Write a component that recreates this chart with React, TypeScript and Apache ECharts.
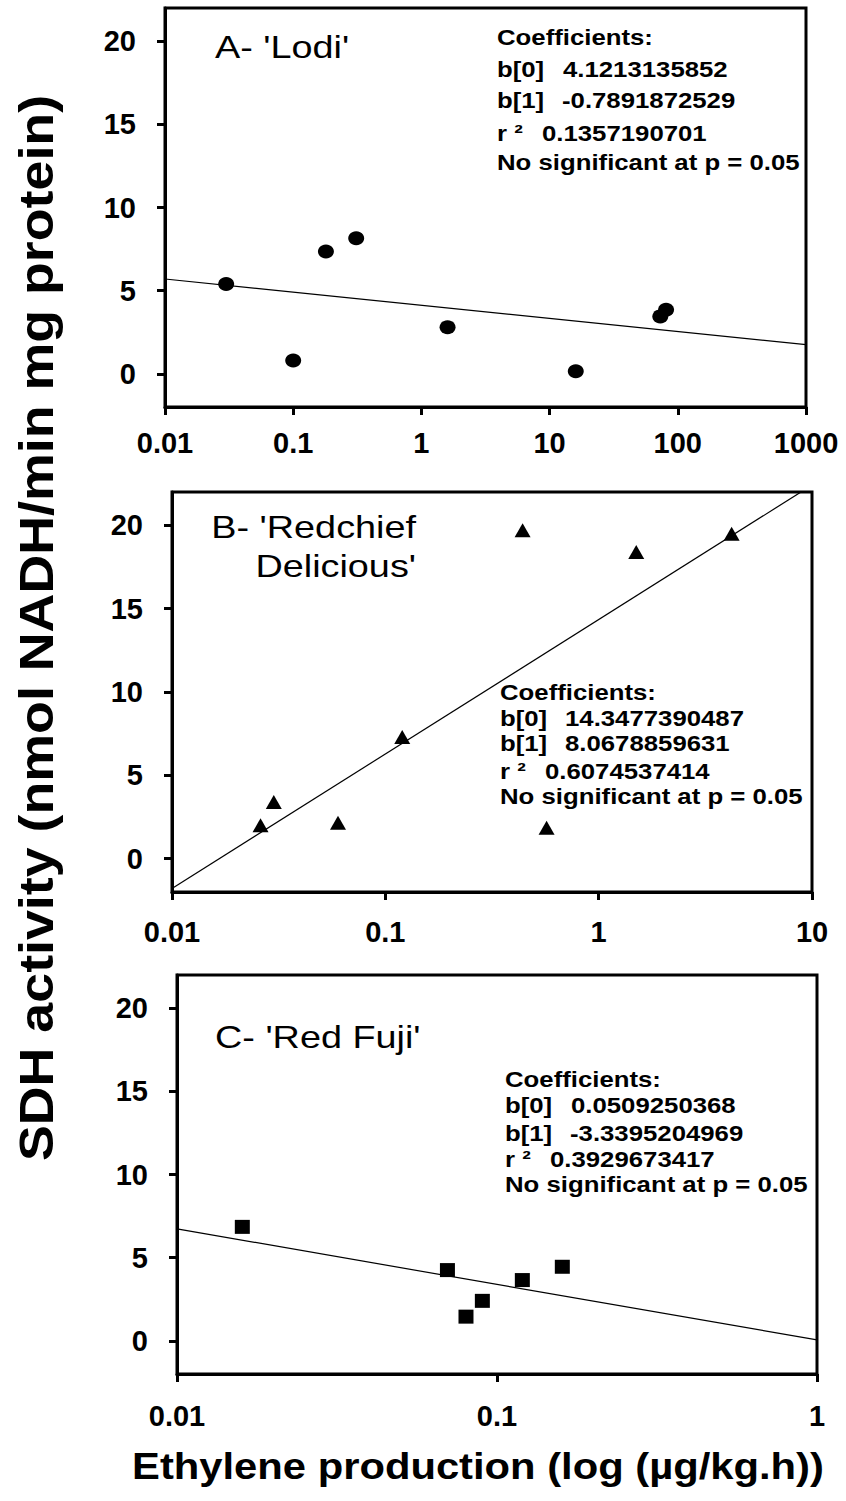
import React, { useEffect, useRef } from 'react';
import * as echarts from 'echarts';

// ---- Data ----
const lodiEthylene = [0.03, 0.1, 0.18, 0.31, 1.6, 16, 73, 81];
const lodiSDH = [5.4, 0.8, 7.35, 8.15, 2.8, 0.15, 3.45, 3.85];

const redchiefEthylene = [0.026, 0.03, 0.06, 0.12, 0.44, 0.57, 1.5, 4.2];
const redchiefSDH = [2.0, 3.4, 2.15, 7.3, 19.7, 1.85, 18.4, 19.5];

const redFujiEthylene = [0.016, 0.07, 0.08, 0.09, 0.12, 0.16];
const redFujiSDH = [6.85, 4.25, 1.45, 2.4, 3.65, 4.45];

// regression coefficients as printed: b[0], b[1], r²
const lodiCoef = ['4.1213135852', '-0.7891872529', '0.1357190701'];
const redchiefCoef = ['14.3477390487', '8.0678859631', '0.6074537414'];
const redFujiCoef = ['0.0509250368', '-3.3395204969', '0.3929673417'];

const coefLabels = ['b[0]', 'b[1]', 'r ²'];
const coefHeader = 'Coefficients:';
const significance = 'No significant at p = 0.05';

const xRangeLodi = [0.01, 1000];
const xRangeRedchief = [0.01, 10];
const xRangeRedFuji = [0.01, 1];
const yRange = [-2, 22];
const yTicks = [0, 5, 10, 15, 20];

const titleLodi = ["A- 'Lodi'"];
const titleRedchief = ["B- 'Redchief", "Delicious'"];
const titleRedFuji = ["C- 'Red Fuji'"];

const yTitle = 'SDH activity (nmol NADH/min mg protein)';
const xTitle = 'Ethylene production (log (\u00b5g/kg.h))';

const FONT = '"Liberation Sans", Arial, Helvetica, sans-serif';

type Panel = {
  xs: number[];
  ys: number[];
  coef: string[];
  xRange: number[];
  symbol: string;
  symbolSize: number[];
  grid: { left: number; top: number; width: number; height: number };
  labelMargin: number;
  title: string[];
  titlePos: { x: number; y: number; align: string }[];
  coefX: number;
  valX: number[];
  lineYs: number[];
};

const panels: Panel[] = [
  {
    xs: lodiEthylene, ys: lodiSDH, coef: lodiCoef, xRange: xRangeLodi,
    symbol: 'circle', symbolSize: [16, 14],
    grid: { left: 165, top: 8, width: 641, height: 399 },
    labelMargin: 21,
    title: titleLodi,
    titlePos: [{ x: 215, y: 47, align: 'left' }],
    coefX: 497, valX: [563, 562, 542], lineYs: [37, 69, 100, 133, 162],
  },
  {
    xs: redchiefEthylene, ys: redchiefSDH, coef: redchiefCoef, xRange: xRangeRedchief,
    symbol: 'triangle', symbolSize: [16, 14],
    grid: { left: 172, top: 492, width: 640, height: 400 },
    labelMargin: 25,
    title: titleRedchief,
    titlePos: [{ x: 416, y: 527, align: 'right' }, { x: 416, y: 566, align: 'right' }],
    coefX: 500, valX: [565, 565, 545], lineYs: [692, 718, 743, 771, 796],
  },
  {
    xs: redFujiEthylene, ys: redFujiSDH, coef: redFujiCoef, xRange: xRangeRedFuji,
    symbol: 'rect', symbolSize: [15, 14],
    grid: { left: 177, top: 975, width: 640, height: 399 },
    labelMargin: 27,
    title: titleRedFuji,
    titlePos: [{ x: 215, y: 1037, align: 'left' }],
    coefX: 505, valX: [571, 570, 550], lineYs: [1079, 1105, 1133, 1159, 1184],
  },
];

function fmtLog(v: number) {
  return String(Number(v.toPrecision(4)));
}

export default function App() {
  const ref = useRef<HTMLDivElement>(null);

  useEffect(() => {
    if (!ref.current) return;
    const chart = echarts.init(ref.current, undefined, { renderer: 'svg' });

    const grids: any[] = [];
    const xAxes: any[] = [];
    const yAxes: any[] = [];
    const series: any[] = [];
    const graphics: any[] = [];

    panels.forEach((p, i) => {
      grids.push({
        left: p.grid.left, top: p.grid.top, width: p.grid.width, height: p.grid.height,
        show: true, borderColor: '#000', borderWidth: 3, backgroundColor: 'transparent',
        containLabel: false,
      });
      xAxes.push({
        type: 'log', logBase: 10, gridIndex: i, min: p.xRange[0], max: p.xRange[1],
        position: 'bottom',
        axisLine: { show: true, onZero: false, lineStyle: { color: '#000', width: 3 } },
        axisTick: { show: true, inside: false, length: 8, lineStyle: { color: '#000', width: 3 } },
        minorTick: { show: false },
        splitLine: { show: false },
        minorSplitLine: { show: false },
        axisLabel: {
          color: '#000', fontSize: 29, fontWeight: 'bold', fontFamily: FONT,
          margin: p.labelMargin, formatter: (v: number) => fmtLog(v),
        },
      });
      yAxes.push({
        type: 'value', gridIndex: i, min: yRange[0], max: yRange[1],
        position: 'left',
        axisLine: { show: true, onZero: false, lineStyle: { color: '#000', width: 3 } },
        axisTick: {
          show: true, inside: false, length: 8, customValues: yTicks,
          lineStyle: { color: '#000', width: 3 },
        },
        splitLine: { show: false },
        axisLabel: {
          color: '#000', fontSize: 29, fontWeight: 'bold', fontFamily: FONT,
          margin: 29, customValues: yTicks,
        },
      });

      const b0 = parseFloat(p.coef[0]);
      const b1 = parseFloat(p.coef[1]);
      const lineData = p.xRange.map((x) => [x, b0 + b1 * Math.log10(x)]);
      series.push({
        type: 'line', xAxisIndex: i, yAxisIndex: i, data: lineData,
        showSymbol: false, symbol: 'none', clip: true,
        lineStyle: { color: '#000', width: 1.2 }, z: 2,
      });
      series.push({
        type: 'scatter', xAxisIndex: i, yAxisIndex: i,
        data: p.xs.map((x, k) => [x, p.ys[k]]),
        symbol: p.symbol, symbolSize: p.symbolSize,
        itemStyle: { color: '#000', opacity: 1 }, z: 3,
      });

      p.title.forEach((t, k) => {
        graphics.push({
          type: 'text', x: p.titlePos[k].x, y: p.titlePos[k].y, scaleX: 1.22, z: 10,
          style: {
            text: t, fill: '#000', font: `normal 31px ${FONT}`,
            textAlign: p.titlePos[k].align, textVerticalAlign: 'middle',
          },
        });
      });

      const coefStyle = (text: string) => ({
        text, fill: '#000', font: `bold 23px ${FONT}`,
        textAlign: 'left', textVerticalAlign: 'middle',
      });
      graphics.push({ type: 'text', x: p.coefX, y: p.lineYs[0], scaleX: 1.12, z: 10, style: coefStyle(coefHeader) });
      coefLabels.forEach((lab, k) => {
        graphics.push({ type: 'text', x: p.coefX, y: p.lineYs[k + 1], scaleX: 1.12, z: 10, style: coefStyle(lab) });
        graphics.push({ type: 'text', x: p.valX[k], y: p.lineYs[k + 1], scaleX: 1.12, z: 10, style: coefStyle(p.coef[k]) });
      });
      graphics.push({ type: 'text', x: p.coefX, y: p.lineYs[4], scaleX: 1.12, z: 10, style: coefStyle(significance) });
    });

    graphics.push({
      type: 'text', x: 37, y: 628, rotation: Math.PI / 2, scaleX: 1.12, z: 10,
      style: {
        text: yTitle, fill: '#000', font: `bold 48px ${FONT}`,
        textAlign: 'center', textVerticalAlign: 'middle',
      },
    });
    graphics.push({
      type: 'text', x: 478, y: 1467, scaleX: 1.16, z: 10,
      style: {
        text: xTitle, fill: '#000', font: `bold 36px ${FONT}`,
        textAlign: 'center', textVerticalAlign: 'middle',
      },
    });

    chart.setOption({
      animation: false,
      backgroundColor: '#fff',
      grid: grids,
      xAxis: xAxes,
      yAxis: yAxes,
      series,
      graphic: { elements: graphics },
    });

    return () => chart.dispose();
  }, []);

  return (
    <div
      ref={ref}
      style={{ position: 'absolute', left: 0, top: 0, width: 846, height: 1501 }}
    />
  );
}
